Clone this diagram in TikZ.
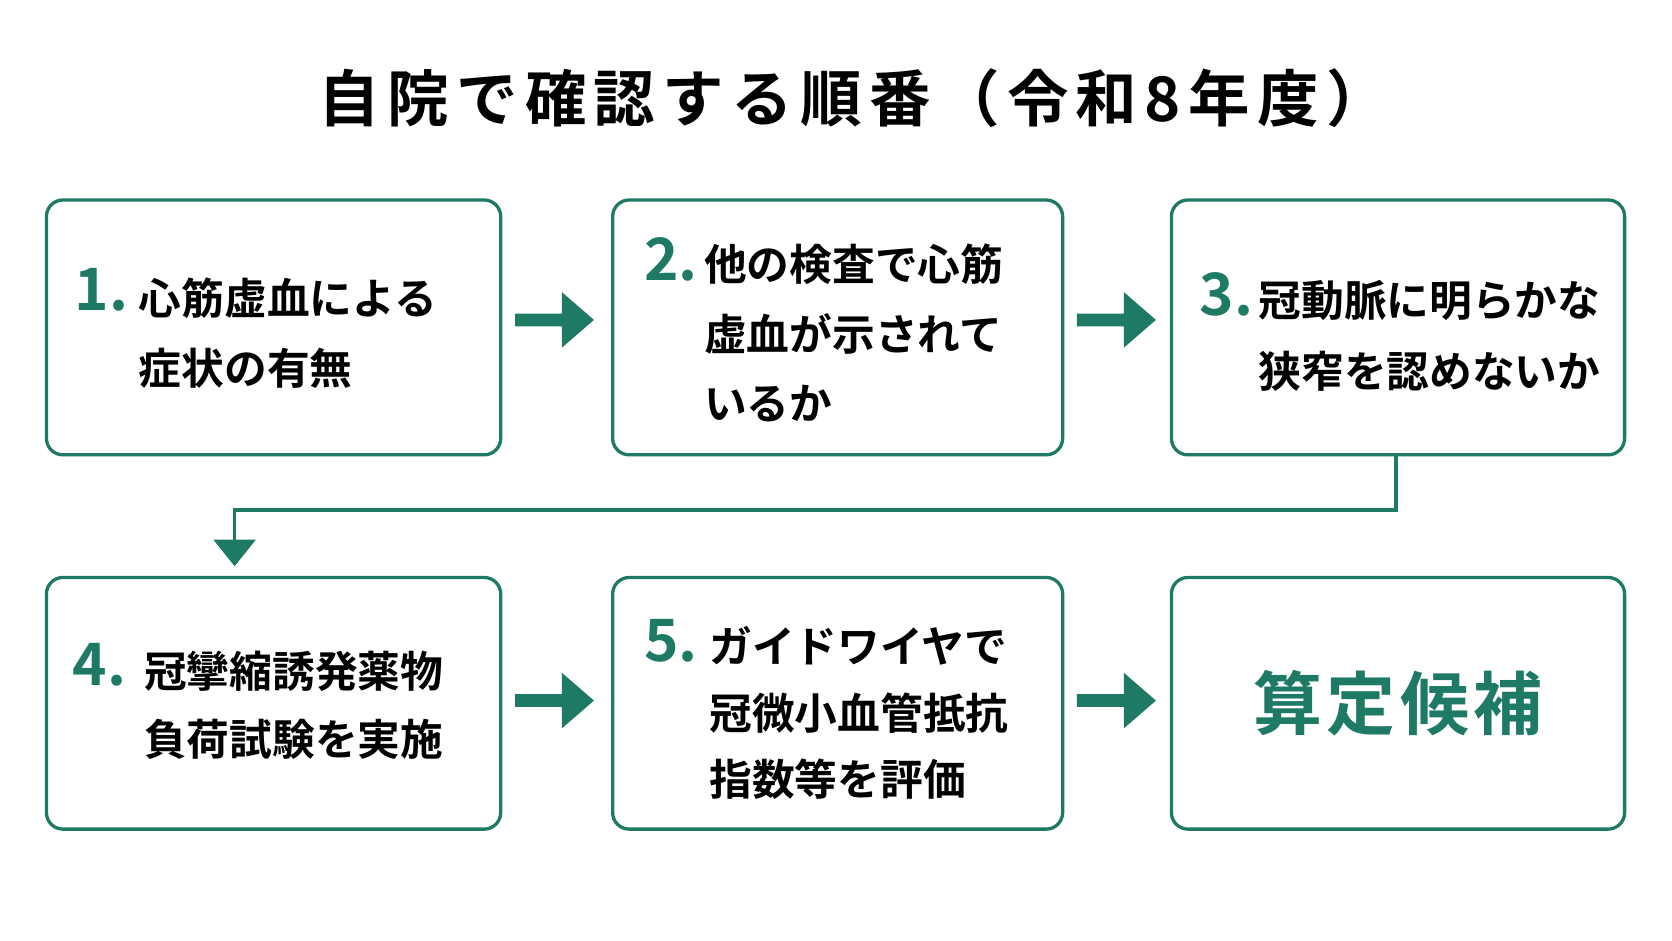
\documentclass[tikz,border=0pt]{standalone}
\usepackage{fontspec}
\setmainfont{Noto Sans CJK JP}
\newfontfamily\jpb{Noto Sans CJK JP Bold}
\definecolor{tg}{HTML}{1E7A65}
\begin{document}
\begin{tikzpicture}[x=0.025cm,y=-0.025cm,
 box/.style={draw=tg,line width=2.2pt,rounded corners=11pt,fill=white},
 num/.style={anchor=west,text=tg,font=\jpb\fontsize{39}{39}\selectfont,inner sep=0},
 txt/.style={anchor=west,font=\jpb\fontsize{28.5}{28.5}\selectfont,inner sep=0},
 arr/.style={fill=tg,draw=none}]
\useasboundingbox[fill=white] (0,0) rectangle (1568,882);
\node[font=\jpb\fontsize{41}{41}\selectfont\addfontfeature{LetterSpace=12}] (title) at (800,92) {自院で確認する順番（令和8年度）};
\node[box,minimum width=426*0.025cm,minimum height=239*0.025cm,anchor=north west] (b1) at (42,186) {};
\node[box,minimum width=422*0.025cm,minimum height=239*0.025cm,anchor=north west] (b2) at (573,186) {};
\node[box,minimum width=425*0.025cm,minimum height=239*0.025cm,anchor=north west] (b3) at (1097,186) {};
\node[box,minimum width=426*0.025cm,minimum height=236*0.025cm,anchor=north west] (b4) at (42,540) {};
\node[box,minimum width=422*0.025cm,minimum height=236*0.025cm,anchor=north west] (b5) at (573,540) {};
\node[box,minimum width=425*0.025cm,minimum height=236*0.025cm,anchor=north west] (b6) at (1097,540) {};
% arrows
\foreach \x/\y in {483/300,1010/300,483/657,1010/657}{
 \fill[arr] (\x,\y-6) -- (\x+44,\y-6) -- (\x+44,\y-26) -- (\x+74,\y) -- (\x+44,\y+26) -- (\x+44,\y+6) -- (\x,\y+6) -- cycle;}
\coordinate (c1) at (1309,478);
\coordinate (c2) at (220,478);
\coordinate (c3) at (220,506);
\draw[tg,line width=2.4pt] (b3.south -| c1) -- (c1) -- (c2) -- (c3);
\fill[tg] (200,506) -- (240,506) -- (220,531) -- cycle;
% texts
\node[num] (n1) at (70,272) {1.};
\node[txt] (t1a) at (130,280) {心筋虚血による};
\node[txt] (t1b) at (130,345) {症状の有無};
\node[num] (n2) at (604,243) {2.};
\node[txt] (t2a) at (660,248) {他の検査で心筋};
\node[txt] (t2b) at (660,313) {虚血が示されて};
\node[txt] (t2c) at (660,378) {いるか};
\node[num] (n3) at (1125,276) {3.};
\node[txt] (t3a) at (1180,282) {冠動脈に明らかな};
\node[txt] (t3b) at (1180,348) {狭窄を認めないか};
\node[num] (n4) at (68,623) {4.};
\node[txt] (t4a) at (135,630) {冠攣縮誘発薬物};
\node[txt] (t4b) at (135,693) {負荷試験を実施};
\node[num] (n5) at (604,601) {5.};
\node[txt] (t5a) at (665,606) {ガイドワイヤで};
\node[txt] (t5b) at (665,669) {冠微小血管抵抗};
\node[txt] (t5c) at (665,731) {指数等を評価};
\node[text=tg,font=\jpb\fontsize{46}{46}\selectfont\addfontfeature{LetterSpace=6}] (t6) at (b6.center) {算定候補};
\end{tikzpicture}
\end{document}
